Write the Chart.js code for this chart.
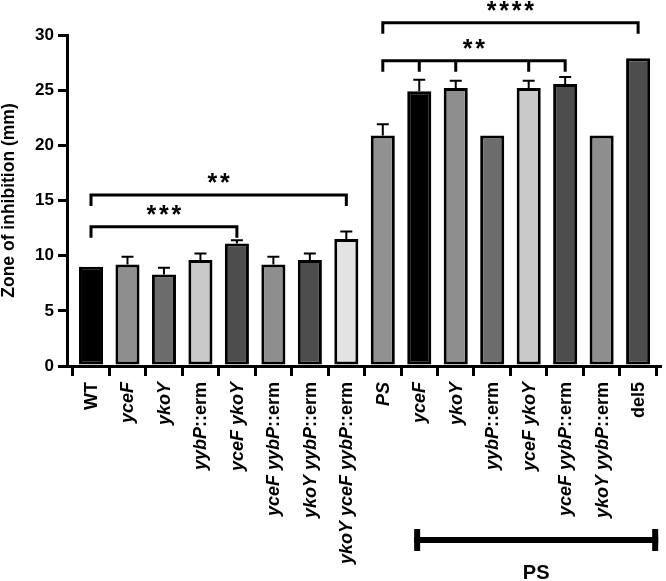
<!DOCTYPE html>
<html>
<head>
<meta charset="utf-8">
<script src="https://cdn.jsdelivr.net/npm/chart.js@4"></script>
<style>
  html, body { margin: 0; padding: 0; background: #fff; }
  #wrap { width: 666px; height: 581px; }
</style>
</head>
<body>
<div id="wrap"><canvas id="chart" width="666" height="581"></canvas></div>
<script>
// strains (<i> marks italic gene names)
const categories = [
  'WT', '<i>yceF</i>', '<i>ykoY</i>', '<i>yybP</i>::erm', '<i>yceF ykoY</i>',
  '<i>yceF yybP</i>::erm', '<i>ykoY yybP</i>::erm', '<i>ykoY yceF yybP</i>::erm',
  '<i>PS</i>', '<i>yceF</i>', '<i>ykoY</i>', '<i>yybP</i>::erm', '<i>yceF ykoY</i>',
  '<i>yceF yybP</i>::erm', '<i>ykoY yybP</i>::erm', 'del5'
];
const zoneMeans = [9, 9.2, 8.3, 9.6, 11.1, 9.2, 9.6, 11.5, 20.9, 24.9, 25.2, 20.9, 25.2, 25.55, 20.9, 27.9];
const zoneErrors = [0, 0.7, 0.6, 0.6, 0.3, 0.7, 0.6, 0.7, 1.0, 1.05, 0.65, 0, 0.65, 0.65, 0, 0];
const yTicks = [0, 5, 10, 15, 20, 25, 30];

// significance brackets: from/to bar index, height in mm, extra drops
const brackets = [
  { from: 0, to: 4, y: 12.63, drops: [], label: '***' },
  { from: 0, to: 7, y: 15.5, drops: [], label: '**' },
  { from: 8, to: 13, y: 27.67, drops: [9, 10, 12], label: '**' },
  { from: 8, to: 15, y: 31.1, drops: [], label: '****' }
];
// group bar under the axis (in bar-index units)
const groupRange = { from: 8.86, to: 15.55, label: 'PS' };

const barColors = ['#000000', '#8e8e8e', '#6c6c6c', '#c9c9c9', '#4d4d4d', '#8e8e8e', '#4d4d4d', '#e3e3e3',
                   '#919191', '#000000', '#8e8e8e', '#6c6c6c', '#c9c9c9', '#4d4d4d', '#8e8e8e', '#4d4d4d'];

const FONT = '"Liberation Sans", Arial, sans-serif';

const extras = {
  id: 'extras',
  afterDatasetsDraw(chart) {
    const ctx = chart.ctx;
    const xs = chart.scales.x, ys = chart.scales.y;
    ctx.save();
    ctx.strokeStyle = '#000';
    ctx.fillStyle = '#000';

    // error bars (upper only)
    ctx.lineWidth = 2;
    zoneMeans.forEach((v, i) => {
      if (!zoneErrors[i]) return;
      const x = xs.getPixelForValue(i);
      const y1 = ys.getPixelForValue(v);
      const y2 = ys.getPixelForValue(v + zoneErrors[i]);
      ctx.beginPath();
      ctx.moveTo(x, y1); ctx.lineTo(x, y2);
      ctx.moveTo(x - 6, y2); ctx.lineTo(x + 6, y2);
      ctx.stroke();
    });

    // brackets with stars
    ctx.lineWidth = 3;
    ctx.lineJoin = 'miter';
    brackets.forEach(b => {
      const x1 = xs.getPixelForValue(b.from), x2 = xs.getPixelForValue(b.to);
      const y = ys.getPixelForValue(b.y);
      ctx.beginPath();
      ctx.moveTo(x1, y + 11); ctx.lineTo(x1, y); ctx.lineTo(x2, y); ctx.lineTo(x2, y + 11);
      b.drops.forEach(d => {
        const xd = xs.getPixelForValue(d);
        ctx.moveTo(xd, y); ctx.lineTo(xd, y + 11);
      });
      ctx.stroke();
      ctx.font = 'bold 25px ' + FONT;
      ctx.textAlign = 'center';
      ctx.textBaseline = 'alphabetic';
      const step = 12.5;
      const mid = (x1 + x2) / 2;
      const n = b.label.length;
      for (let k = 0; k < n; k++) {
        ctx.fillText('*', mid + (k - (n - 1) / 2) * step, y - 18 + 14.5);
      }
    });

    // x labels, rotated, mixed italic
    const top = xs.top + 16;
    categories.forEach((lab, i) => {
      const parts = lab.split(/(<i>.*?<\/i>)/).filter(s => s.length).map(s => {
        const it = s.startsWith('<i>');
        return { text: it ? s.slice(3, -4) : s, italic: it };
      });
      ctx.save();
      ctx.translate(xs.getPixelForValue(i), top);
      ctx.rotate(-Math.PI / 2);
      ctx.textBaseline = 'middle';
      ctx.textAlign = 'left';
      let total = 0;
      parts.forEach(p => {
        ctx.font = (p.italic ? 'italic ' : '') + 'bold 18px ' + FONT;
        p.w = ctx.measureText(p.text).width;
        total += p.w;
      });
      let pos = -total;
      parts.forEach(p => {
        ctx.font = (p.italic ? 'italic ' : '') + 'bold 18px ' + FONT;
        ctx.fillText(p.text, pos, 1);
        pos += p.w;
      });
      ctx.restore();
    });

    // group range bar
    const gx1 = xs.getPixelForValue(groupRange.from), gx2 = xs.getPixelForValue(groupRange.to);
    const gy = 540;
    ctx.fillRect(gx1, gy - 3, gx2 - gx1, 6);
    ctx.fillRect(gx1, gy - 11, 6, 22);
    ctx.fillRect(gx2 - 6, gy - 11, 6, 22);
    ctx.font = 'bold 20px ' + FONT;
    ctx.textAlign = 'center';
    ctx.textBaseline = 'middle';
    ctx.fillText(groupRange.label, (gx1 + gx2) / 2, 573);
    ctx.restore();
  }
};

new Chart(document.getElementById('chart'), {
  type: 'bar',
  data: {
    datasets: [{
      data: zoneMeans.map((v, i) => ({ x: i, y: v })),
      backgroundColor: barColors,
      borderColor: '#000',
      borderWidth: 3,
      borderSkipped: false,
      barPercentage: 0.66,
      categoryPercentage: 1
    }]
  },
  options: {
    responsive: false,
    animation: false,
    layout: { padding: { top: 35, right: 6, left: 0, bottom: 0 } },
    plugins: { legend: { display: false }, tooltip: { enabled: false } },
    scales: {
      x: {
        type: 'linear',
        offset: false,
        min: -0.658,
        max: 15.6,
        afterBuildTicks: s => { s.ticks = categories.map((c, i) => ({ value: i })); },
        afterFit: s => { s.height = 581 - 366; },
        ticks: { display: false },
        grid: { drawOnChartArea: false, color: '#000', lineWidth: 3, tickLength: 10 },
        border: { color: '#000', width: 3 }
      },
      y: {
        min: 0,
        max: 30,
        afterBuildTicks: s => { s.ticks = yTicks.map(v => ({ value: v })); },
        afterFit: s => { s.width = 67; },
        ticks: { color: '#000', padding: 4, font: { family: FONT, size: 17, weight: 'bold' } },
        grid: { drawOnChartArea: false, color: '#000', lineWidth: 3, tickLength: 9 },
        border: { color: '#000', width: 3 },
        title: {
          display: true,
          text: 'Zone of inhibition (mm)',
          color: '#000',
          padding: 0,
          font: { family: FONT, size: 17.5, weight: 'bold', lineHeight: 1 }
        }
      }
    }
  },
  plugins: [extras]
});
</script>
</body>
</html>
